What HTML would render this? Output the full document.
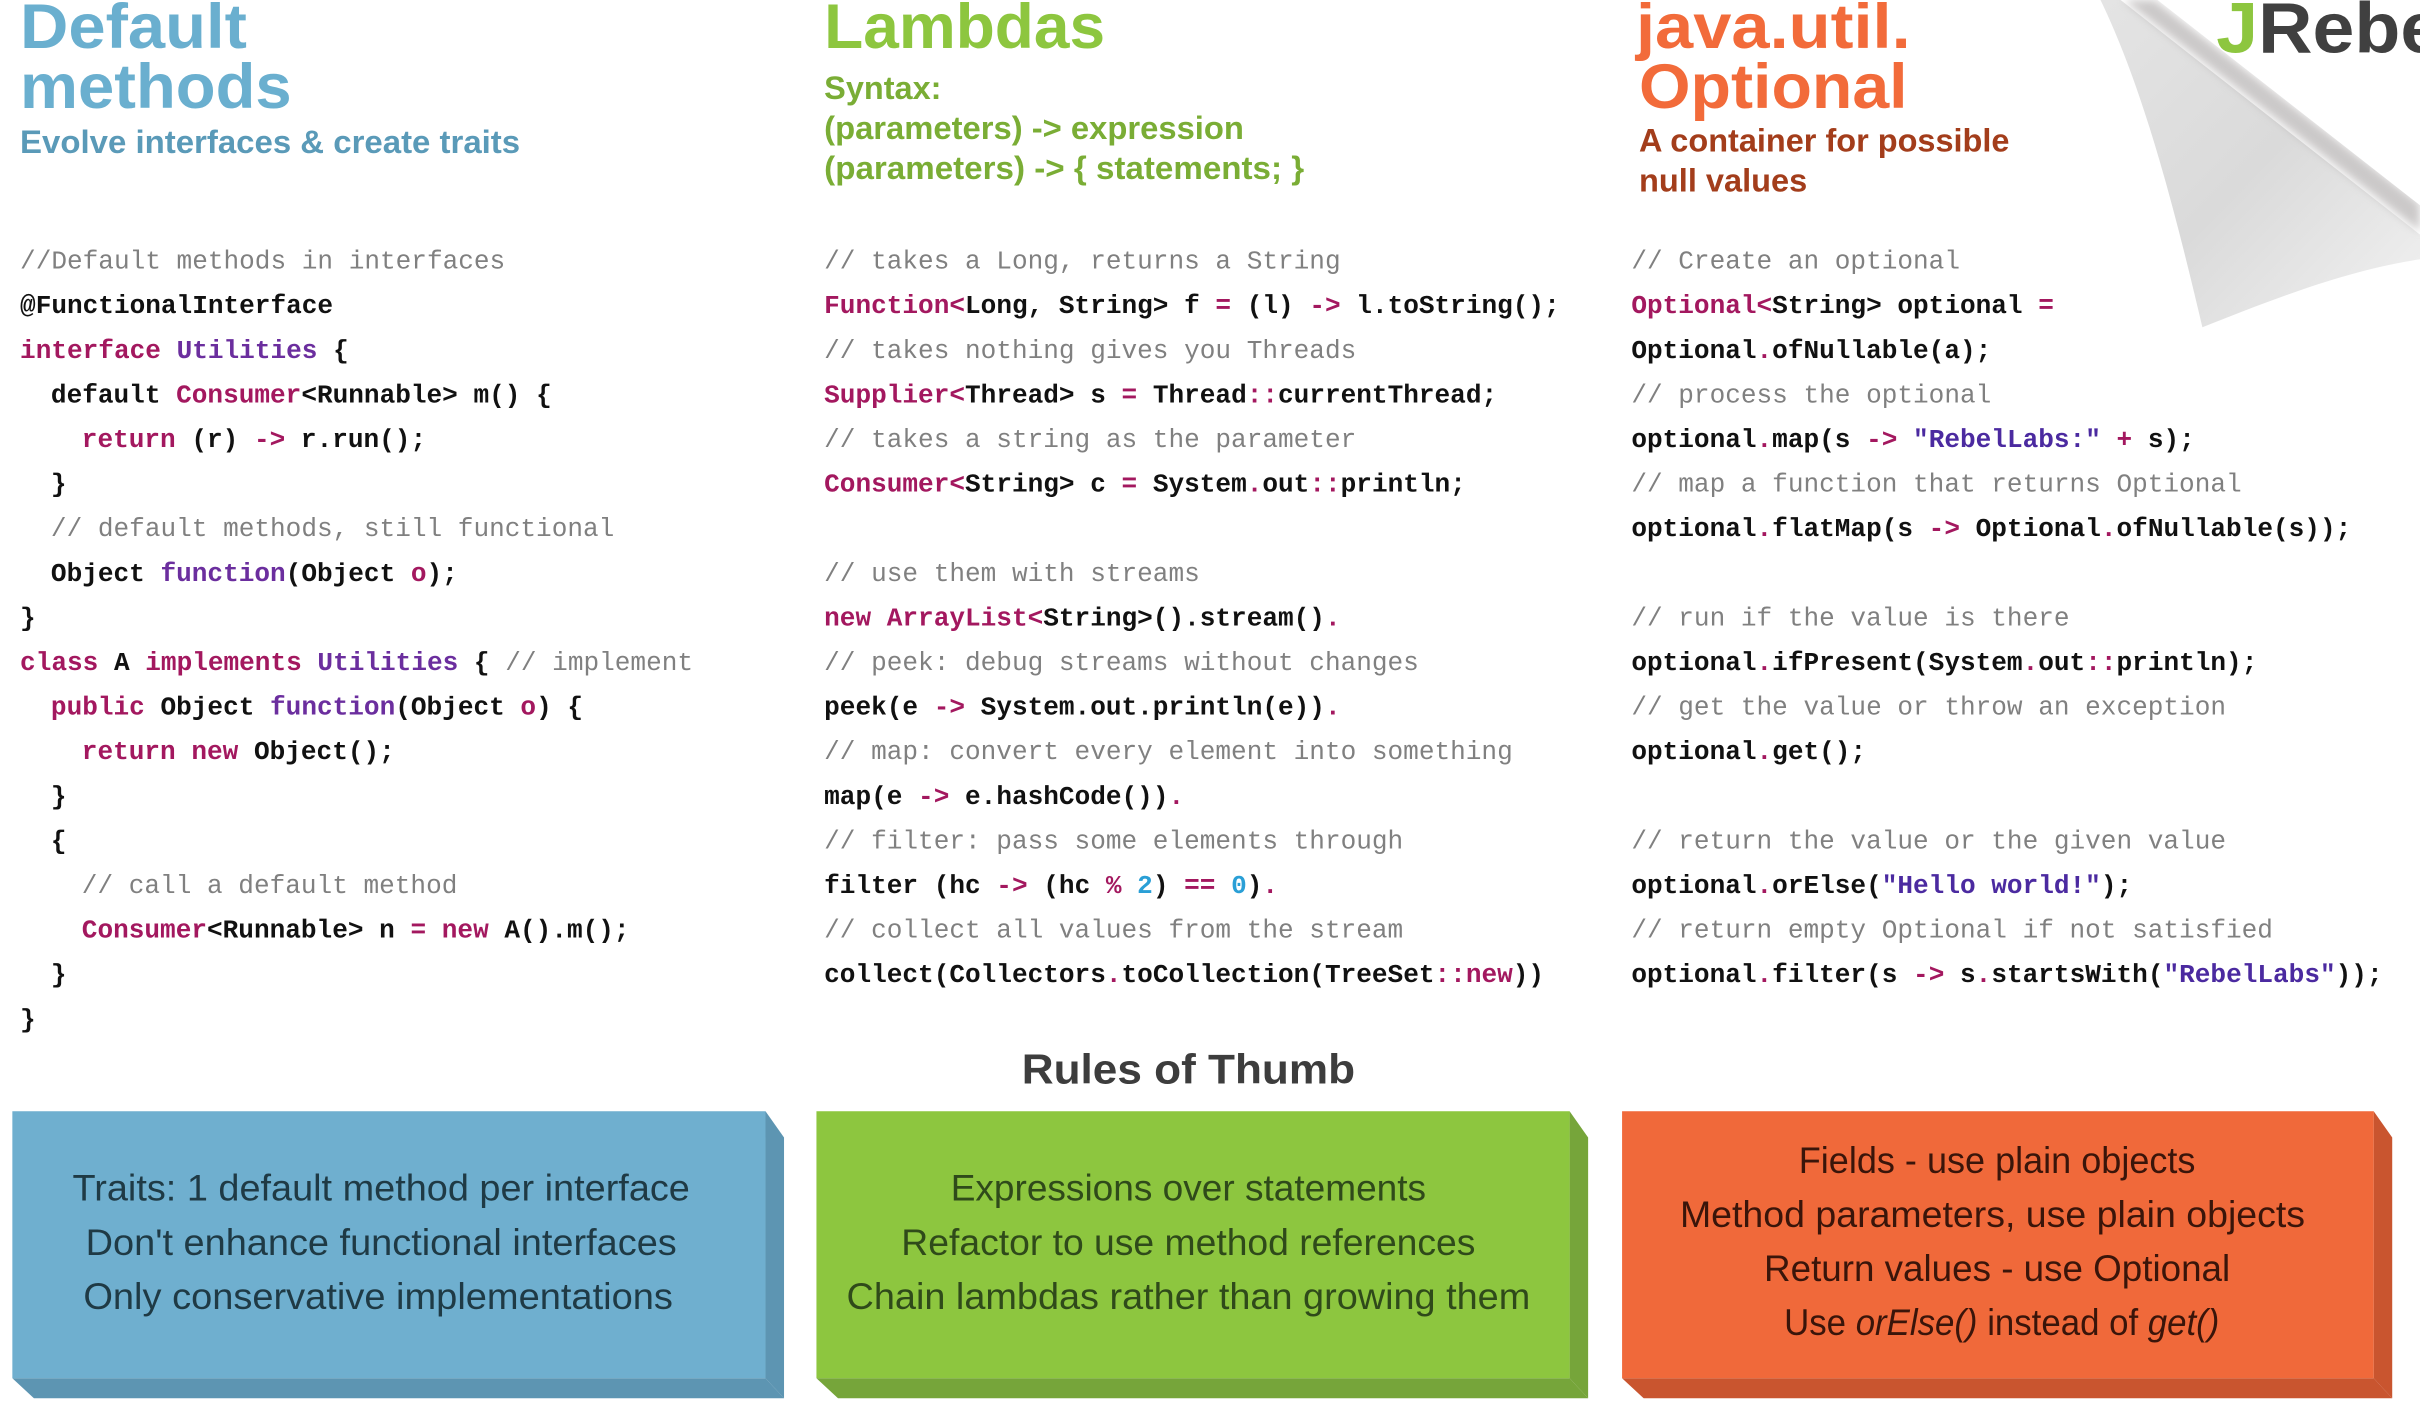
<!DOCTYPE html>
<html><head><meta charset="utf-8"><style>
html,body{margin:0;padding:0;background:#fff;}
svg{display:block;}
.code{font-family:"Liberation Mono",monospace;font-size:16.9px;font-weight:bold;fill:#111;}
.c{fill:#808080;font-weight:normal;}
.k{fill:#a3185f;}
.p{fill:#6b2e9e;}
.s{fill:#4b2aa0;}
.n{fill:#2a9fd6;}
.h{font-family:"Liberation Sans",sans-serif;font-weight:bold;}
</style></head><body>
<svg width="2420" height="1418" viewBox="0 0 1568 918.75" xmlns="http://www.w3.org/2000/svg">
<defs>
<linearGradient id="curl" x1="0" y1="0" x2="1" y2="1">
<stop offset="0" stop-color="#e4e4e4"/><stop offset="0.5" stop-color="#dadada"/><stop offset="1" stop-color="#f2f2f2"/>
</linearGradient>
<linearGradient id="band" x1="1374" y1="0" x2="1350" y2="30" gradientUnits="userSpaceOnUse">
<stop offset="0" stop-color="#9a9595"/><stop offset="1" stop-color="#ffffff" stop-opacity="0"/>
</linearGradient>
<filter id="bl" x="-20%" y="-20%" width="140%" height="140%"><feGaussianBlur stdDeviation="3"/></filter>
</defs>

<!-- page curl -->
<path d="M1361,0 L1374,0 L1568,152 L1568,168 C1520,175 1470,195 1427,212 C1410,140 1390,60 1361,0 Z" fill="url(#curl)"/>
<path d="M1376,0 L1568,150 L1568,132 L1396,0 Z" fill="#a8a4a4" opacity="0.6" filter="url(#bl)"/>
<path d="M1398,0 L1568,133 L1568,110 L1420,0 Z" fill="#ffffff"/>
<text x="1436" y="34" class="h" font-size="46" textLength="160" lengthAdjust="spacingAndGlyphs"><tspan fill="#8dc63f">J</tspan><tspan fill="#404040">Rebel</tspan></text>

<!-- headers -->
<text x="13" y="31" class="h" fill="#6aafcf" font-size="41" textLength="147" lengthAdjust="spacingAndGlyphs">Default</text>
<text x="13" y="70" class="h" fill="#6aafcf" font-size="41" textLength="176" lengthAdjust="spacingAndGlyphs">methods</text>
<text x="13" y="99" class="h" fill="#5a9ab8" font-size="21" textLength="324" lengthAdjust="spacingAndGlyphs">Evolve interfaces &amp; create traits</text>

<text x="534" y="31" class="h" fill="#8dc63f" font-size="41" textLength="182" lengthAdjust="spacingAndGlyphs">Lambdas</text>
<text x="534" y="64" class="h" fill="#7aad35" font-size="21" textLength="76" lengthAdjust="spacingAndGlyphs">Syntax:</text>
<text x="534" y="90" class="h" fill="#7aad35" font-size="21" textLength="272" lengthAdjust="spacingAndGlyphs">(parameters) -&gt; expression</text>
<text x="534" y="116" class="h" fill="#7aad35" font-size="21" textLength="311" lengthAdjust="spacingAndGlyphs">(parameters) -&gt; { statements; }</text>

<text x="1060" y="31" class="h" fill="#f26b3a" font-size="41" textLength="178" lengthAdjust="spacingAndGlyphs">java.util.</text>
<text x="1062" y="70" class="h" fill="#f26b3a" font-size="41" textLength="174" lengthAdjust="spacingAndGlyphs">Optional</text>
<text x="1062" y="98" class="h" fill="#a33d1b" font-size="21" textLength="240" lengthAdjust="spacingAndGlyphs">A container for possible</text>
<text x="1062" y="124" class="h" fill="#a33d1b" font-size="21" textLength="109" lengthAdjust="spacingAndGlyphs">null values</text>

<g class="code" xml:space="preserve">
<text x="13" y="174" class="c">//Default methods in interfaces</text>
<text x="13" y="202.9">@FunctionalInterface</text>
<text x="13" y="231.8"><tspan class="k">interface</tspan> <tspan class="p">Utilities</tspan> {</text>
<text x="33" y="260.7">default <tspan class="k">Consumer</tspan>&lt;Runnable&gt; m() {</text>
<text x="53" y="289.6"><tspan class="k">return</tspan> (r) <tspan class="k">-&gt;</tspan> r.run();</text>
<text x="33" y="318.5">}</text>
<text x="33" y="347.4" class="c">// default methods, still functional</text>
<text x="33" y="376.3">Object <tspan class="p">function</tspan>(Object <tspan class="k">o</tspan>);</text>
<text x="13" y="405.2">}</text>
<text x="13" y="434.1"><tspan class="k">class</tspan> A <tspan class="k">implements</tspan> <tspan class="p">Utilities</tspan> { <tspan class="c">// implement</tspan></text>
<text x="33" y="463"><tspan class="k">public</tspan> Object <tspan class="p">function</tspan>(Object <tspan class="k">o</tspan>) {</text>
<text x="53" y="491.9"><tspan class="k">return new</tspan> Object();</text>
<text x="33" y="520.8">}</text>
<text x="33" y="549.7">{</text>
<text x="53" y="578.6" class="c">// call a default method</text>
<text x="53" y="607.5"><tspan class="k">Consumer</tspan>&lt;Runnable&gt; n <tspan class="k">=</tspan> <tspan class="k">new</tspan> A().m();</text>
<text x="33" y="636.4">}</text>
<text x="13" y="665.3">}</text>

<text x="534" y="174" class="c">// takes a Long, returns a String</text>
<text x="534" y="202.9"><tspan class="k">Function&lt;</tspan>Long, String&gt; f <tspan class="k">=</tspan> (l) <tspan class="k">-&gt;</tspan> l.toString();</text>
<text x="534" y="231.8" class="c">// takes nothing gives you Threads</text>
<text x="534" y="260.7"><tspan class="k">Supplier&lt;</tspan>Thread&gt; s <tspan class="k">=</tspan> Thread<tspan class="k">::</tspan>currentThread;</text>
<text x="534" y="289.6" class="c">// takes a string as the parameter</text>
<text x="534" y="318.5"><tspan class="k">Consumer&lt;</tspan>String&gt; c <tspan class="k">=</tspan> System<tspan class="k">.</tspan>out<tspan class="k">::</tspan>println;</text>
<text x="534" y="376.3" class="c">// use them with streams</text>
<text x="534" y="405.2"><tspan class="k">new ArrayList&lt;</tspan>String&gt;().stream()<tspan class="k">.</tspan></text>
<text x="534" y="434.1" class="c">// peek: debug streams without changes</text>
<text x="534" y="463">peek(e <tspan class="k">-&gt;</tspan> System.out.println(e))<tspan class="k">.</tspan></text>
<text x="534" y="491.9" class="c">// map: convert every element into something</text>
<text x="534" y="520.8">map(e <tspan class="k">-&gt;</tspan> e.hashCode())<tspan class="k">.</tspan></text>
<text x="534" y="549.7" class="c">// filter: pass some elements through</text>
<text x="534" y="578.6">filter (hc <tspan class="k">-&gt;</tspan> (hc <tspan class="k">%</tspan> <tspan class="n">2</tspan>) <tspan class="k">==</tspan> <tspan class="n">0</tspan>)<tspan class="k">.</tspan></text>
<text x="534" y="607.5" class="c">// collect all values from the stream</text>
<text x="534" y="636.4">collect(Collectors<tspan class="k">.</tspan>toCollection(TreeSet<tspan class="k">::new</tspan>))</text>

<text x="1057" y="174" class="c">// Create an optional</text>
<text x="1057" y="202.9"><tspan class="k">Optional&lt;</tspan>String&gt; optional <tspan class="k">=</tspan></text>
<text x="1057" y="231.8">Optional<tspan class="k">.</tspan>ofNullable(a);</text>
<text x="1057" y="260.7" class="c">// process the optional</text>
<text x="1057" y="289.6">optional<tspan class="k">.</tspan>map(s <tspan class="k">-&gt;</tspan> <tspan class="s">"RebelLabs:"</tspan> <tspan class="k">+</tspan> s);</text>
<text x="1057" y="318.5" class="c">// map a function that returns Optional</text>
<text x="1057" y="347.4">optional<tspan class="k">.</tspan>flatMap(s <tspan class="k">-&gt;</tspan> Optional<tspan class="k">.</tspan>ofNullable(s));</text>
<text x="1057" y="405.2" class="c">// run if the value is there</text>
<text x="1057" y="434.1">optional<tspan class="k">.</tspan>ifPresent(System<tspan class="k">.</tspan>out<tspan class="k">::</tspan>println);</text>
<text x="1057" y="463" class="c">// get the value or throw an exception</text>
<text x="1057" y="491.9">optional<tspan class="k">.</tspan>get();</text>
<text x="1057" y="549.7" class="c">// return the value or the given value</text>
<text x="1057" y="578.6">optional<tspan class="k">.</tspan>orElse(<tspan class="s">"Hello world!"</tspan>);</text>
<text x="1057" y="607.5" class="c">// return empty Optional if not satisfied</text>
<text x="1057" y="636.4">optional<tspan class="k">.</tspan>filter(s <tspan class="k">-&gt;</tspan> s<tspan class="k">.</tspan>startsWith(<tspan class="s">"RebelLabs"</tspan>));</text>
</g>

<text x="770" y="702" class="h" fill="#3d3d3d" font-size="27" text-anchor="middle" textLength="216" lengthAdjust="spacingAndGlyphs">Rules of Thumb</text>

<polygon points="496,720 508,737 508,906 496,893" fill="#5d95b2"/>
<polygon points="8,893 496,893 508,906 22,906" fill="#5d95b2"/>
<rect x="8" y="720" width="488" height="173" fill="#6fafcf"/>
<g class="h" font-size="24" fill="#1f3a45" text-anchor="middle" style="font-weight:normal">
<text x="247" y="778" textLength="400" lengthAdjust="spacingAndGlyphs">Traits: 1 default method per interface</text>
<text x="247" y="813" textLength="383" lengthAdjust="spacingAndGlyphs">Don't enhance functional interfaces</text>
<text x="245" y="848" textLength="382" lengthAdjust="spacingAndGlyphs">Only conservative implementations</text>
</g>

<polygon points="1017,720 1029,737 1029,906 1017,893" fill="#76a53a"/>
<polygon points="529,893 1017,893 1029,906 543,906" fill="#76a53a"/>
<rect x="529" y="720" width="488" height="173" fill="#8dc63f"/>
<g class="h" font-size="24" fill="#2f4a1a" text-anchor="middle" style="font-weight:normal">
<text x="770" y="778" textLength="308" lengthAdjust="spacingAndGlyphs">Expressions over statements</text>
<text x="770" y="813" textLength="372" lengthAdjust="spacingAndGlyphs">Refactor to use method references</text>
<text x="770" y="848" textLength="443" lengthAdjust="spacingAndGlyphs">Chain lambdas rather than growing them</text>
</g>

<polygon points="1538,720 1550,737 1550,906 1538,893" fill="#c9552f"/>
<polygon points="1051,893 1538,893 1550,906 1065,906" fill="#c9552f"/>
<rect x="1051" y="720" width="487" height="173" fill="#f0693a"/>
<g class="h" font-size="24" fill="#3a150a" text-anchor="middle" style="font-weight:normal">
<text x="1294" y="760" textLength="257" lengthAdjust="spacingAndGlyphs">Fields - use plain objects</text>
<text x="1291" y="795" textLength="405" lengthAdjust="spacingAndGlyphs">Method parameters, use plain objects</text>
<text x="1294" y="830" textLength="302" lengthAdjust="spacingAndGlyphs">Return values - use Optional</text>
<text x="1297" y="865" textLength="282" lengthAdjust="spacingAndGlyphs">Use <tspan font-style="italic">orElse()</tspan> instead of <tspan font-style="italic">get()</tspan></text>
</g>
</svg>
</body></html>
